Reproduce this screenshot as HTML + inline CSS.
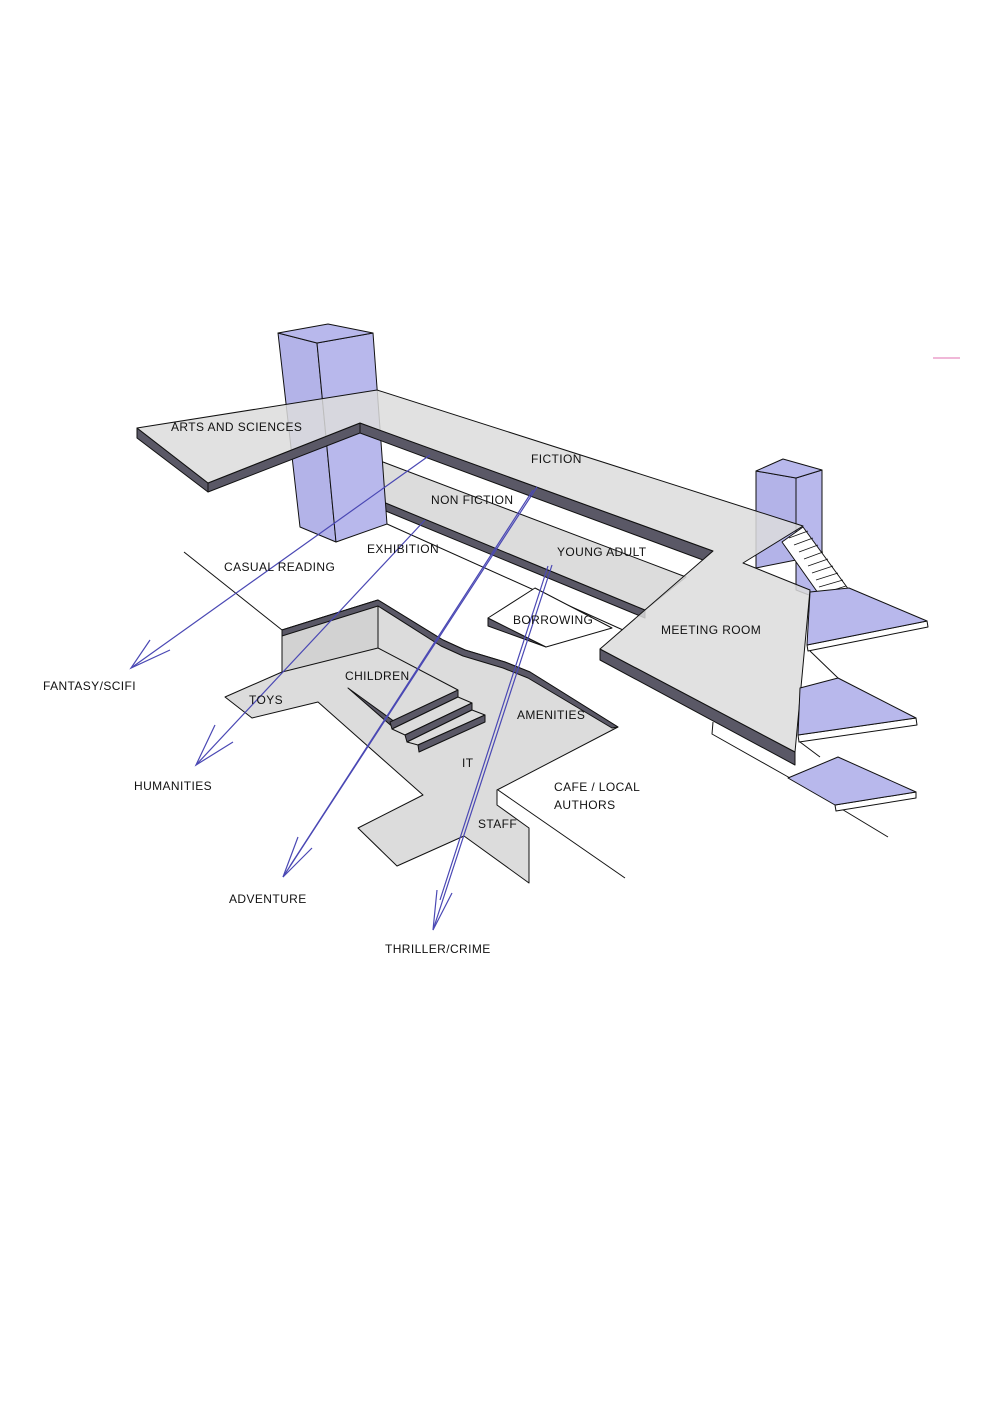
<!DOCTYPE html>
<html><head><meta charset="utf-8"><style>
html,body{margin:0;padding:0;background:#fff}
svg{display:block}
text{font-family:"Liberation Sans",sans-serif;font-size:12px;fill:#111;letter-spacing:0.4px}
</style></head><body>
<svg width="1000" height="1414" viewBox="0 0 1000 1414" xmlns="http://www.w3.org/2000/svg">
<g stroke="#111" stroke-width="1" stroke-linejoin="round">
<line x1="184" y1="552" x2="282" y2="630"/>
<line x1="387" y1="524" x2="623" y2="630"/>
<line x1="498" y1="790" x2="625" y2="878"/>
<line x1="835" y1="805" x2="888" y2="837"/>
<polyline fill="none" points="713,722 712,734 790,778"/>
<polygon fill="#5a5866" points="330,480 645,610 645,618 330,488"/>
<polygon fill="#dcdcdc" points="330,480 383,462 686,577 645,610"/>
<polygon fill="#b3b3e8" points="278,333 317,343 336,542 300,527"/>
<polygon fill="#b8b8ec" points="317,343 373,333 387,524 336,542"/>
<polygon fill="#b8b8ec" points="278,333 328,324 373,333 317,343"/>
<polygon fill="#b3b3e8" points="756,471 796,478 796,560 756,568"/>
<polygon fill="#b8b8ec" points="796,478 822,470 822,600 796,590"/>
<polygon fill="#b8b8ec" points="756,471 783,459 822,470 796,478"/>
<polygon fill="#5a5866" points="137,428 208,483 208,492 137,438"/>
<polygon fill="#5a5866" points="208,483 360,423 360,433 208,492"/>
<polygon fill="#5a5866" points="360,423 713,551 703,560 360,433"/>
<polygon fill="#5a5866" points="600,649 795,752 795,765 600,660"/>
<polygon fill="#dcdcdc" fill-opacity="0.85" points="137,428 377,390 803,526 743,563 810,590 795,752 600,649 713,551 360,423 208,483"/>
<polygon fill="#fff" points="803,527 849,590 823,600 782,542"/>
<g stroke-width="0.8">
<line x1="789" y1="538" x2="808" y2="531"/><line x1="794" y1="545" x2="813" y2="538"/>
<line x1="799" y1="552" x2="818" y2="545"/><line x1="804" y1="559" x2="823" y2="552"/>
<line x1="808" y1="566" x2="828" y2="559"/><line x1="812" y1="573" x2="833" y2="566"/>
<line x1="816" y1="580" x2="838" y2="573"/><line x1="819" y1="587" x2="843" y2="580"/>
<line x1="821" y1="594" x2="846" y2="586"/>
</g>
<polygon fill="#fff" points="807,645 927,621 928,627 808,651"/>
<polygon fill="#b8b8ec" points="810,592 849,588 927,621 807,645"/>
<line x1="810" y1="651" x2="838" y2="678"/>
<polygon fill="#fff" points="798,735 916,718 917,725 799,742"/>
<polygon fill="#b8b8ec" points="800,688 838,678 916,718 798,735"/>
<line x1="800" y1="742" x2="820" y2="757"/>
<polygon fill="#fff" points="835,805 916,792 916,798 836,811"/>
<polygon fill="#b8b8ec" points="788,778 838,757 916,792 835,805"/>
<polygon fill="#5a5866" points="488,618 546,647 488,626"/>
<polygon fill="#fff" points="488,618 535,588 612,628 546,647"/>
<polygon fill="#dcdcdc" points="282,630 378,600 443,640 465,650 505,662 530,672 618,727 497,790 497,805 529,828 529,883 464,836 397,866 358,828 423,795 318,702 252,718 225,697 282,672"/>
<polygon fill="#d2d2d2" points="282,630 378,600 378,648 282,672"/>
<line x1="378" y1="648" x2="458" y2="690"/>
<polygon fill="#5a5866" points="282,630 378,600 443,640 465,650 505,662 530,672 618,727 612,728 528,678 503,668 463,656 441,646 378,606 282,636"/>
<polygon fill="#5a5866" points="348,688 395,722 395,729"/>
<polygon fill="#5a5866" points="390,722 458,690 458,697 392,729"/>
<polygon fill="#dcdcdc" points="392,729 458,697 472,703 405,735"/>
<polygon fill="#5a5866" points="405,735 472,703 472,710 407,742"/>
<polygon fill="#dcdcdc" points="407,742 472,710 485,715 418,745"/>
<polygon fill="#5a5866" points="418,745 485,715 485,722 419,752"/>
</g>
<g stroke="#4a48b4" stroke-width="1.2" fill="none">
<line x1="430" y1="455" x2="131" y2="668"/>
<polyline points="150,640 131,668 170,650"/>
<line x1="425" y1="520" x2="196" y2="765"/>
<polyline points="215,725 196,765 233,742"/>
<line x1="537" y1="487" x2="283" y2="877"/>
<line x1="533" y1="490" x2="290" y2="866"/>
<polyline points="298,837 283,877 312,848"/>
<line x1="552" y1="565" x2="433" y2="930"/>
<line x1="548" y1="566" x2="440" y2="900"/>
<polyline points="437,890 433,930 452,893"/>
</g>
<line x1="933" y1="358" x2="960" y2="358" stroke="#e070b0" stroke-width="1"/>
<text x="171" y="431">ARTS AND SCIENCES</text>
<text x="531" y="463">FICTION</text>
<text x="431" y="504">NON FICTION</text>
<text x="557" y="556">YOUNG ADULT</text>
<text x="224" y="571">CASUAL READING</text>
<text x="367" y="553">EXHIBITION</text>
<text x="513" y="624">BORROWING</text>
<text x="661" y="634">MEETING ROOM</text>
<text x="345" y="680">CHILDREN</text>
<text x="249" y="704">TOYS</text>
<text x="517" y="719">AMENITIES</text>
<text x="462" y="767">IT</text>
<text x="478" y="828">STAFF</text>
<text x="554" y="791">CAFE / LOCAL</text>
<text x="554" y="809">AUTHORS</text>
<text x="43" y="690">FANTASY/SCIFI</text>
<text x="134" y="790">HUMANITIES</text>
<text x="229" y="903">ADVENTURE</text>
<text x="385" y="953">THRILLER/CRIME</text>
</svg>
</body></html>
